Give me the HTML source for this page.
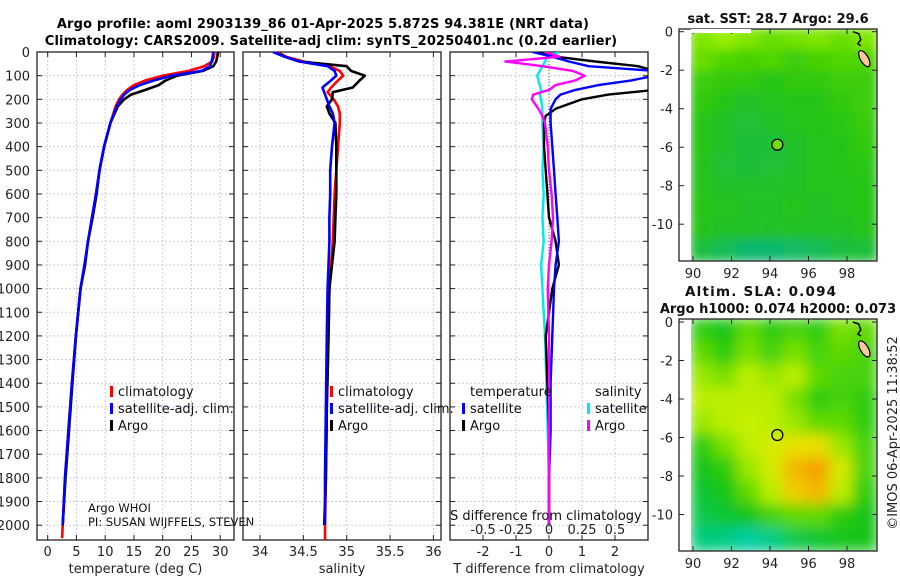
<!DOCTYPE html>
<html><head><meta charset="utf-8"><style>
html,body{margin:0;padding:0;background:#fff;}
svg text{font-family:"DejaVu Sans","Liberation Sans",sans-serif;}
</style></head><body>
<svg id="fig" width="900" height="580" viewBox="0 0 900 580" xmlns="http://www.w3.org/2000/svg">
<defs>
<filter id="blur" x="-5%" y="-5%" width="110%" height="110%"><feGaussianBlur stdDeviation="7"/></filter>
<filter id="blur2" x="-5%" y="-5%" width="110%" height="110%"><feGaussianBlur stdDeviation="5"/></filter>
<clipPath id="cTop"><rect x="691" y="29" width="186" height="232"/></clipPath>
<clipPath id="cBot"><rect x="691" y="319" width="186" height="232"/></clipPath>
<clipPath id="cP1"><rect x="37" y="52" width="197" height="488"/></clipPath>
<clipPath id="cP2"><rect x="243" y="52" width="198" height="488"/></clipPath>
<clipPath id="cP3"><rect x="450" y="52" width="198" height="488"/></clipPath>
</defs>
<text x="323" y="28" font-size="13" font-weight="bold" text-anchor="middle" letter-spacing="0.15">Argo profile: aoml 2903139_86 01-Apr-2025 5.872S 94.381E (NRT data)</text>
<text x="331" y="45" font-size="13" font-weight="bold" text-anchor="middle" letter-spacing="0.15">Climatology: CARS2009. Satellite-adj clim: synTS_20250401.nc (0.2d earlier)</text>
<g id="g1"></g><g id="g2"></g><g id="g3"></g><g id="gm"></g>
</svg>
<script>
// ---------- data ----------
const depthTicks=[0,100,200,300,400,500,600,700,800,900,1000,1100,1200,1300,1400,1500,1600,1700,1800,1900,2000];
const tTicks=[0,5,10,15,20,25,30];
const sTicks=[34,34.5,35,35.5,36];
const sTickLabels=["34","34.5","35","35.5","36"];
const dTicks=[-2,-1,0,1,2];
const dsTicks=[-0.5,-0.25,0,0.25,0.5];
const dsTickLabels=["-0.5","-0.25","0","0.25","0.5"];

const argoTdep=[0,20,40,60,80,100,120,140,160,180,200,230,300,400,500,600,700,800,900,1000,1200,1400,1600,1800,2000];
const argoT=[29.6,29.5,29.3,28.8,27.0,22.5,20.5,19.3,17.0,14.5,13.3,12.2,10.9,9.8,9.0,8.5,7.8,7.0,6.5,5.7,4.9,4.3,3.7,3.1,2.6];
const climTdep=[0,20,40,60,80,100,120,140,160,180,200,230,300,400,500,600,700,800,900,1000,1200,1400,1600,1800,2000,2055];
const climT=[29.0,28.9,28.6,27.2,24.5,20.0,17.0,15.0,13.8,13.0,12.4,11.8,10.9,9.8,9.0,8.4,7.7,7.0,6.4,5.7,4.9,4.2,3.6,3.0,2.6,2.5];
const satT=[28.8,28.7,28.5,28.2,26.8,21.5,18.5,16.0,14.3,13.3,12.7,12.0,10.9,9.8,9.0,8.4,7.7,7.0,6.4,5.7,4.9,4.2,3.6,3.0,2.6,2.6];

const sdep=[0,20,40,60,80,100,120,150,170,200,230,260,300,400,500,600,700,800,900,1000,1200,1500,1800,2000];
const argoS=[34.17,34.29,34.46,35.0,35.05,35.21,35.15,35.07,34.84,34.83,34.77,34.8,34.87,34.88,34.88,34.88,34.87,34.86,34.83,34.8,34.79,34.77,34.76,34.74];
const climS=[34.2,34.3,34.5,34.8,34.92,34.96,34.9,34.82,34.78,34.85,34.9,34.92,34.92,34.9,34.88,34.86,34.85,34.84,34.82,34.8,34.79,34.77,34.76,34.75];
const satS=[34.15,34.28,34.45,34.78,34.86,34.88,34.82,34.72,34.74,34.77,34.8,34.84,34.86,34.83,34.81,34.81,34.8,34.8,34.79,34.78,34.77,34.76,34.75,34.75];

const ddep=[0,20,40,60,80,100,120,140,160,180,200,240,270,300,400,500,600,700,800,900,1000,1200,1400,1600,1800,2000];
const dTsat=[-0.5,0.1,0.6,1.2,3.2,3.2,2.5,1.5,0.8,0.35,0.2,0.05,0.05,0.05,0.1,0.15,0.2,0.25,0.3,0.2,0.15,0.1,0.05,0.05,0.0,0.0];
const dTargo=[-0.4,0.2,1.4,2.7,3.2,3.2,3.2,3.2,3.2,1.8,1.0,0.2,-0.1,-0.15,-0.15,-0.1,-0.05,0.0,0.2,0.3,0.1,-0.1,-0.05,0.0,0.0,0.0];
const dSargo=[-0.03,0.08,-0.33,-0.05,0.18,0.27,0.2,0.05,0.0,-0.12,-0.13,-0.08,-0.05,-0.03,-0.01,0.0,0.02,0.03,0.02,0.0,-0.01,0.0,0.0,0.0,0.0,0.0];
const dSsat=[0.08,-0.01,-0.03,-0.05,-0.07,-0.09,-0.08,-0.07,-0.06,-0.07,-0.06,-0.05,-0.05,-0.05,-0.04,-0.05,-0.04,-0.05,-0.04,-0.06,-0.05,-0.03,-0.02,-0.01,0.0,0.0];

const lonTicks=[90,92,94,96,98];
const latTicks=[0,-2,-4,-6,-8,-10];
const sstGrid=[
 [0.8,0.9,0.8,0.7,0.75,0.8,0.7,0.8],
 [0.7,0.6,0.55,0.6,0.5,0.55,0.6,0.6],
 [0.5,0.45,0.45,0.4,0.45,0.45,0.5,0.5],
 [0.45,0.4,0.35,0.38,0.4,0.4,0.45,0.5],
 [0.4,0.35,0.33,0.35,0.38,0.4,0.42,0.48],
 [0.4,0.35,0.32,0.32,0.35,0.38,0.4,0.45],
 [0.38,0.33,0.32,0.33,0.35,0.38,0.4,0.42],
 [0.38,0.35,0.35,0.35,0.36,0.38,0.38,0.4],
 [0.4,0.38,0.36,0.36,0.38,0.36,0.38,0.4],
 [0.38,0.36,0.36,0.35,0.36,0.36,0.36,0.38],
 [0.3,0.25,0.2,0.2,0.22,0.25,0.3,0.32]];
const slaGrid=[
 [0.35,0.3,0.45,0.35,0.4,0.35,0.5,0.45],
 [0.45,0.35,0.5,0.4,0.5,0.4,0.45,0.4],
 [0.55,0.5,0.6,0.55,0.6,0.45,0.4,0.4],
 [0.6,0.6,0.6,0.6,0.5,0.35,0.4,0.35],
 [0.55,0.6,0.62,0.6,0.55,0.45,0.45,0.35],
 [0.35,0.5,0.6,0.65,0.7,0.7,0.55,0.4],
 [0.3,0.35,0.55,0.65,0.8,0.85,0.65,0.4],
 [0.25,0.3,0.45,0.6,0.75,0.8,0.6,0.35],
 [0.2,0.25,0.3,0.4,0.45,0.45,0.35,0.3],
 [0.12,0.1,0.05,0.1,0.2,0.25,0.28,0.3]];

// ---------- helpers ----------
const NS="http://www.w3.org/2000/svg";
function el(tag,attrs,parent,txt){const e=document.createElementNS(NS,tag);for(const k in attrs)e.setAttribute(k,attrs[k]);if(txt!==undefined)e.textContent=txt;parent.appendChild(e);return e;}
const yD=d=>52+d*0.2366;
function panel(g,x0,x1,scale,ticks,labels,name,xlabel,clip,doYlab){
  for(const d of depthTicks){el('line',{x1:x0,x2:x1,y1:yD(d),y2:yD(d),stroke:'#c8cbe6','stroke-width':1,'stroke-dasharray':'2,2'},g);}
  ticks.forEach((t,i)=>{const x=scale(t);el('line',{x1:x,x2:x,y1:52,y2:540,stroke:'#c8cbe6','stroke-width':1,'stroke-dasharray':'2,2'},g);
    el('line',{x1:x,x2:x,y1:540,y2:535,stroke:'#222'},g);el('line',{x1:x,x2:x,y1:52,y2:57,stroke:'#222'},g);
    const t1=el('text',{x:x,y:556,'font-size':13,'text-anchor':'middle',fill:'#222'},g,labels[i]);
    });
  for(const d of depthTicks){el('line',{x1:x0,x2:x0+5,y1:yD(d),y2:yD(d),stroke:'#222'},g);el('line',{x1:x1-5,x2:x1,y1:yD(d),y2:yD(d),stroke:'#222'},g);
    if(doYlab){const t=el('text',{x:30,y:yD(d)+5,'font-size':13,'text-anchor':'end',fill:'#222'},g,String(d));}}
  const r=el('rect',{x:x0,y:52,width:x1-x0,height:488,fill:'none',stroke:'#222','stroke-width':1.3},g);
  
  const xl=el('text',{x:(x0+x1)/2,y:573,'font-size':13,'text-anchor':'middle',fill:'#222'},g,xlabel);
  
}
function line(g,xs,deps,scale,color,name,clip,w){
  const p=xs.map((v,i)=>(i?'L':'M')+scale(v).toFixed(1)+','+yD(deps[i]).toFixed(1)).join('');
  const e=el('path',{d:p,fill:'none',stroke:color,'stroke-width':w||2.6,'stroke-linejoin':'round','clip-path':'url(#'+clip+')'},g);
  
}
function legend(g,x,y,color,label,name){
  el('rect',{x:x,y:y-10,width:3,height:11,fill:color},g);
  const t=el('text',{x:x+8,y:y,'font-size':13,fill:'#111'},g,label);
  
}
// ---------- panel 1 ----------
const g1=document.getElementById('g1');
const sx1=v=>47.7+v*5.75;
panel(g1,37,234,sx1,tTicks,tTicks.map(String),'temperature-panel','temperature (deg C)','cP1',true);
line(g1,climT,climTdep,sx1,'#ff0000','climatology-temperature-line','cP1');
line(g1,argoT,argoTdep,sx1,'#000','argo-temperature-line','cP1');
line(g1,satT,climTdep.slice(0,25).concat([2000]),sx1,'#0000ff','satellite-temperature-line','cP1');
legend(g1,110,396,'#ff0000','climatology','legend-climatology');
legend(g1,110,413,'#0000ff','satellite-adj. clim.','legend-satellite');
legend(g1,110,430,'#000','Argo','legend-argo');
el('text',{x:88,y:512,'font-size':11.5,fill:'#111',},g1,'Argo WHOI');
el('text',{x:88,y:526,'font-size':11.5,fill:'#111',},g1,'PI: SUSAN WIJFFELS, STEVEN');
// ---------- panel 2 ----------
const g2=document.getElementById('g2');
const sx2=v=>260+(v-34)*86.7;
panel(g2,243,441,sx2,sTicks,sTickLabels,'salinity-panel','salinity','cP2',false);
line(g2,climS,sdep,sx2,'#ff0000','climatology-salinity-line','cP2');
line(g2,argoS,sdep,sx2,'#000','argo-salinity-line','cP2');
line(g2,satS,sdep,sx2,'#0000ff','satellite-salinity-line','cP2');
el('line',{x1:sx2(34.75),x2:sx2(34.75),y1:yD(2000),y2:540,stroke:'#ff0000','stroke-width':2.6},g2);
legend(g2,330,396,'#ff0000','climatology','legend2-climatology');
legend(g2,330,413,'#0000ff','satellite-adj. clim.','legend2-satellite');
legend(g2,330,430,'#000','Argo','legend2-argo');
// ---------- panel 3 ----------
const g3=document.getElementById('g3');
const sx3=v=>549+v*33;
const ss3=v=>549+v*132;
panel(g3,450,648,sx3,dTicks,dTicks.map(String),'difference-panel','T difference from climatology','cP3',false);
el('line',{x1:549,x2:549,y1:52,y2:540,stroke:'#555','stroke-width':1,'stroke-dasharray':'1,2'},g3);
line(g3,dSsat,ddep,ss3,'#00e8e8','satellite-salinity-diff-line','cP3',2.4);
line(g3,dTargo,ddep,sx3,'#000','argo-temperature-diff-line','cP3',2.4);
line(g3,dTsat,ddep,sx3,'#0000ff','satellite-temperature-diff-line','cP3',2.4);
line(g3,dSargo,ddep,ss3,'#ff00ff','argo-salinity-diff-line','cP3',2.4);
el('text',{x:470,y:396,'font-size':13,fill:'#111',},g3,'temperature');
el('text',{x:595,y:396,'font-size':13,fill:'#111',},g3,'salinity');
legend(g3,462,413,'#0000ff','satellite','legend3-t-satellite');
legend(g3,462,430,'#000','Argo','legend3-t-argo');
legend(g3,587,413,'#00e8e8','satellite','legend3-s-satellite');
legend(g3,587,430,'#ff00ff','Argo','legend3-s-argo');
el('text',{x:450,y:520,'font-size':13,fill:'#111',},g3,'S difference from climatology');
dsTicks.forEach((t,i)=>{const e=el('text',{x:ss3(t),y:534,'font-size':13,'text-anchor':'middle',fill:'#222'},g3,dsTickLabels[i]);
  });
// ---------- maps ----------
const gm=document.getElementById('gm');
const lonX=l=>693+(l-90)*19.25;
function sstColor(v){const a=[[0.2,[16,184,110]],[0.4,[40,196,20]],[0.6,[80,214,0]],[0.9,[150,238,0]]];return interp(a,v);}
function slaColor(v){const a=[[0.05,[0,205,160]],[0.3,[20,196,20]],[0.5,[120,225,0]],[0.62,[200,240,0]],[0.72,[240,220,0]],[0.85,[245,160,0]]];return interp(a,v);}
function interp(a,v){if(v<=a[0][0])return 'rgb('+a[0][1]+')';for(let i=1;i<a.length;i++){if(v<=a[i][0]){const f=(v-a[i-1][0])/(a[i][0]-a[i-1][0]);return 'rgb('+a[i-1][1].map((c,j)=>Math.round(c+(a[i][1][j]-c)*f))+')';}}return 'rgb('+a[a.length-1][1]+')';}
function map(y0,lat0,grid,colorFn,clip,name,filt,sla){
  const latY=l=>lat0-l*19.25;
  const gg=el('g',{'clip-path':'url(#'+clip+')'},gm);
  const inner=el('g',{filter:'url(#'+filt+')'},gg);
  const rows=grid.length,cols=grid[0].length,cw=186/cols,ch=232/rows;
  grid.forEach((row,r)=>row.forEach((v,c)=>{const e=el('rect',{x:(691+c*cw-1).toFixed(1),y:(y0+r*ch-1).toFixed(1),width:(cw+2).toFixed(1),height:(ch+2).toFixed(1),fill:colorFn(v)},inner);
    }));
  el('ellipse',{cx:lonX(98.9),cy:latY(-1.4),rx:4,ry:9,transform:'rotate(-30 '+lonX(98.9)+' '+latY(-1.4)+')',fill:'#f8c89a',stroke:'#000','stroke-width':1.2},gg);
  el('path',{d:'M'+lonX(98.3)+','+latY(0)+' l6,2 l2,6 l-3,4 l3,2',fill:'none',stroke:'#000','stroke-width':1.5},gg);
  const fr=el('rect',{x:679,y:y0,width:198,height:232,fill:'none',stroke:'#222','stroke-width':1.3},gm);
  
  lonTicks.forEach(l=>{const x=lonX(l);el('line',{x1:x,x2:x,y1:y0+232,y2:y0+227,stroke:'#222'},gm);el('line',{x1:x,x2:x,y1:y0,y2:y0+5,stroke:'#222'},gm);
    const t=el('text',{x:x,y:y0+232+17,'font-size':13,'text-anchor':'middle',fill:'#222'},gm,String(l));});
  latTicks.forEach(l=>{const y=latY(l);el('line',{x1:679,x2:684,y1:y,y2:y,stroke:'#222'},gm);el('line',{x1:872,x2:877,y1:y,y2:y,stroke:'#222'},gm);
    const t=el('text',{x:673,y:y+5,'font-size':13,'text-anchor':'end',fill:'#222'},gm,String(l));});
  const m=el('circle',{cx:lonX(94.381),cy:latY(-5.872),r:5.5,fill:sla?'none':'#70e000',stroke:'#000','stroke-width':1.3},gm);
  
}
map(29,31.7,sstGrid,sstColor,'cTop','sst-map','blur2',false);
el('rect',{x:691,y:29,width:60,height:4,fill:'#fff'},gm);
map(319,322,slaGrid,slaColor,'cBot','sla-map','blur',true);
el('text',{x:778,y:23,'font-size':13,'font-weight':'bold','text-anchor':'middle',fill:'#111',},gm,'sat. SST: 28.7 Argo: 29.6');
el('text',{x:685,y:296,'font-size':13.5,'font-weight':'bold','letter-spacing':'1.2',fill:'#111',},gm,'Altim. SLA: 0.094');
el('text',{x:778,y:313,'font-size':13,'font-weight':'bold','text-anchor':'middle',fill:'#111',},gm,'Argo h1000: 0.074 h2000: 0.073');
el('text',{x:897,y:433,'font-size':13,'text-anchor':'middle',fill:'#222',transform:'rotate(-90 897 433)',},gm,'©IMOS 06-Apr-2025 11:38:52');
</script>
</body></html>
